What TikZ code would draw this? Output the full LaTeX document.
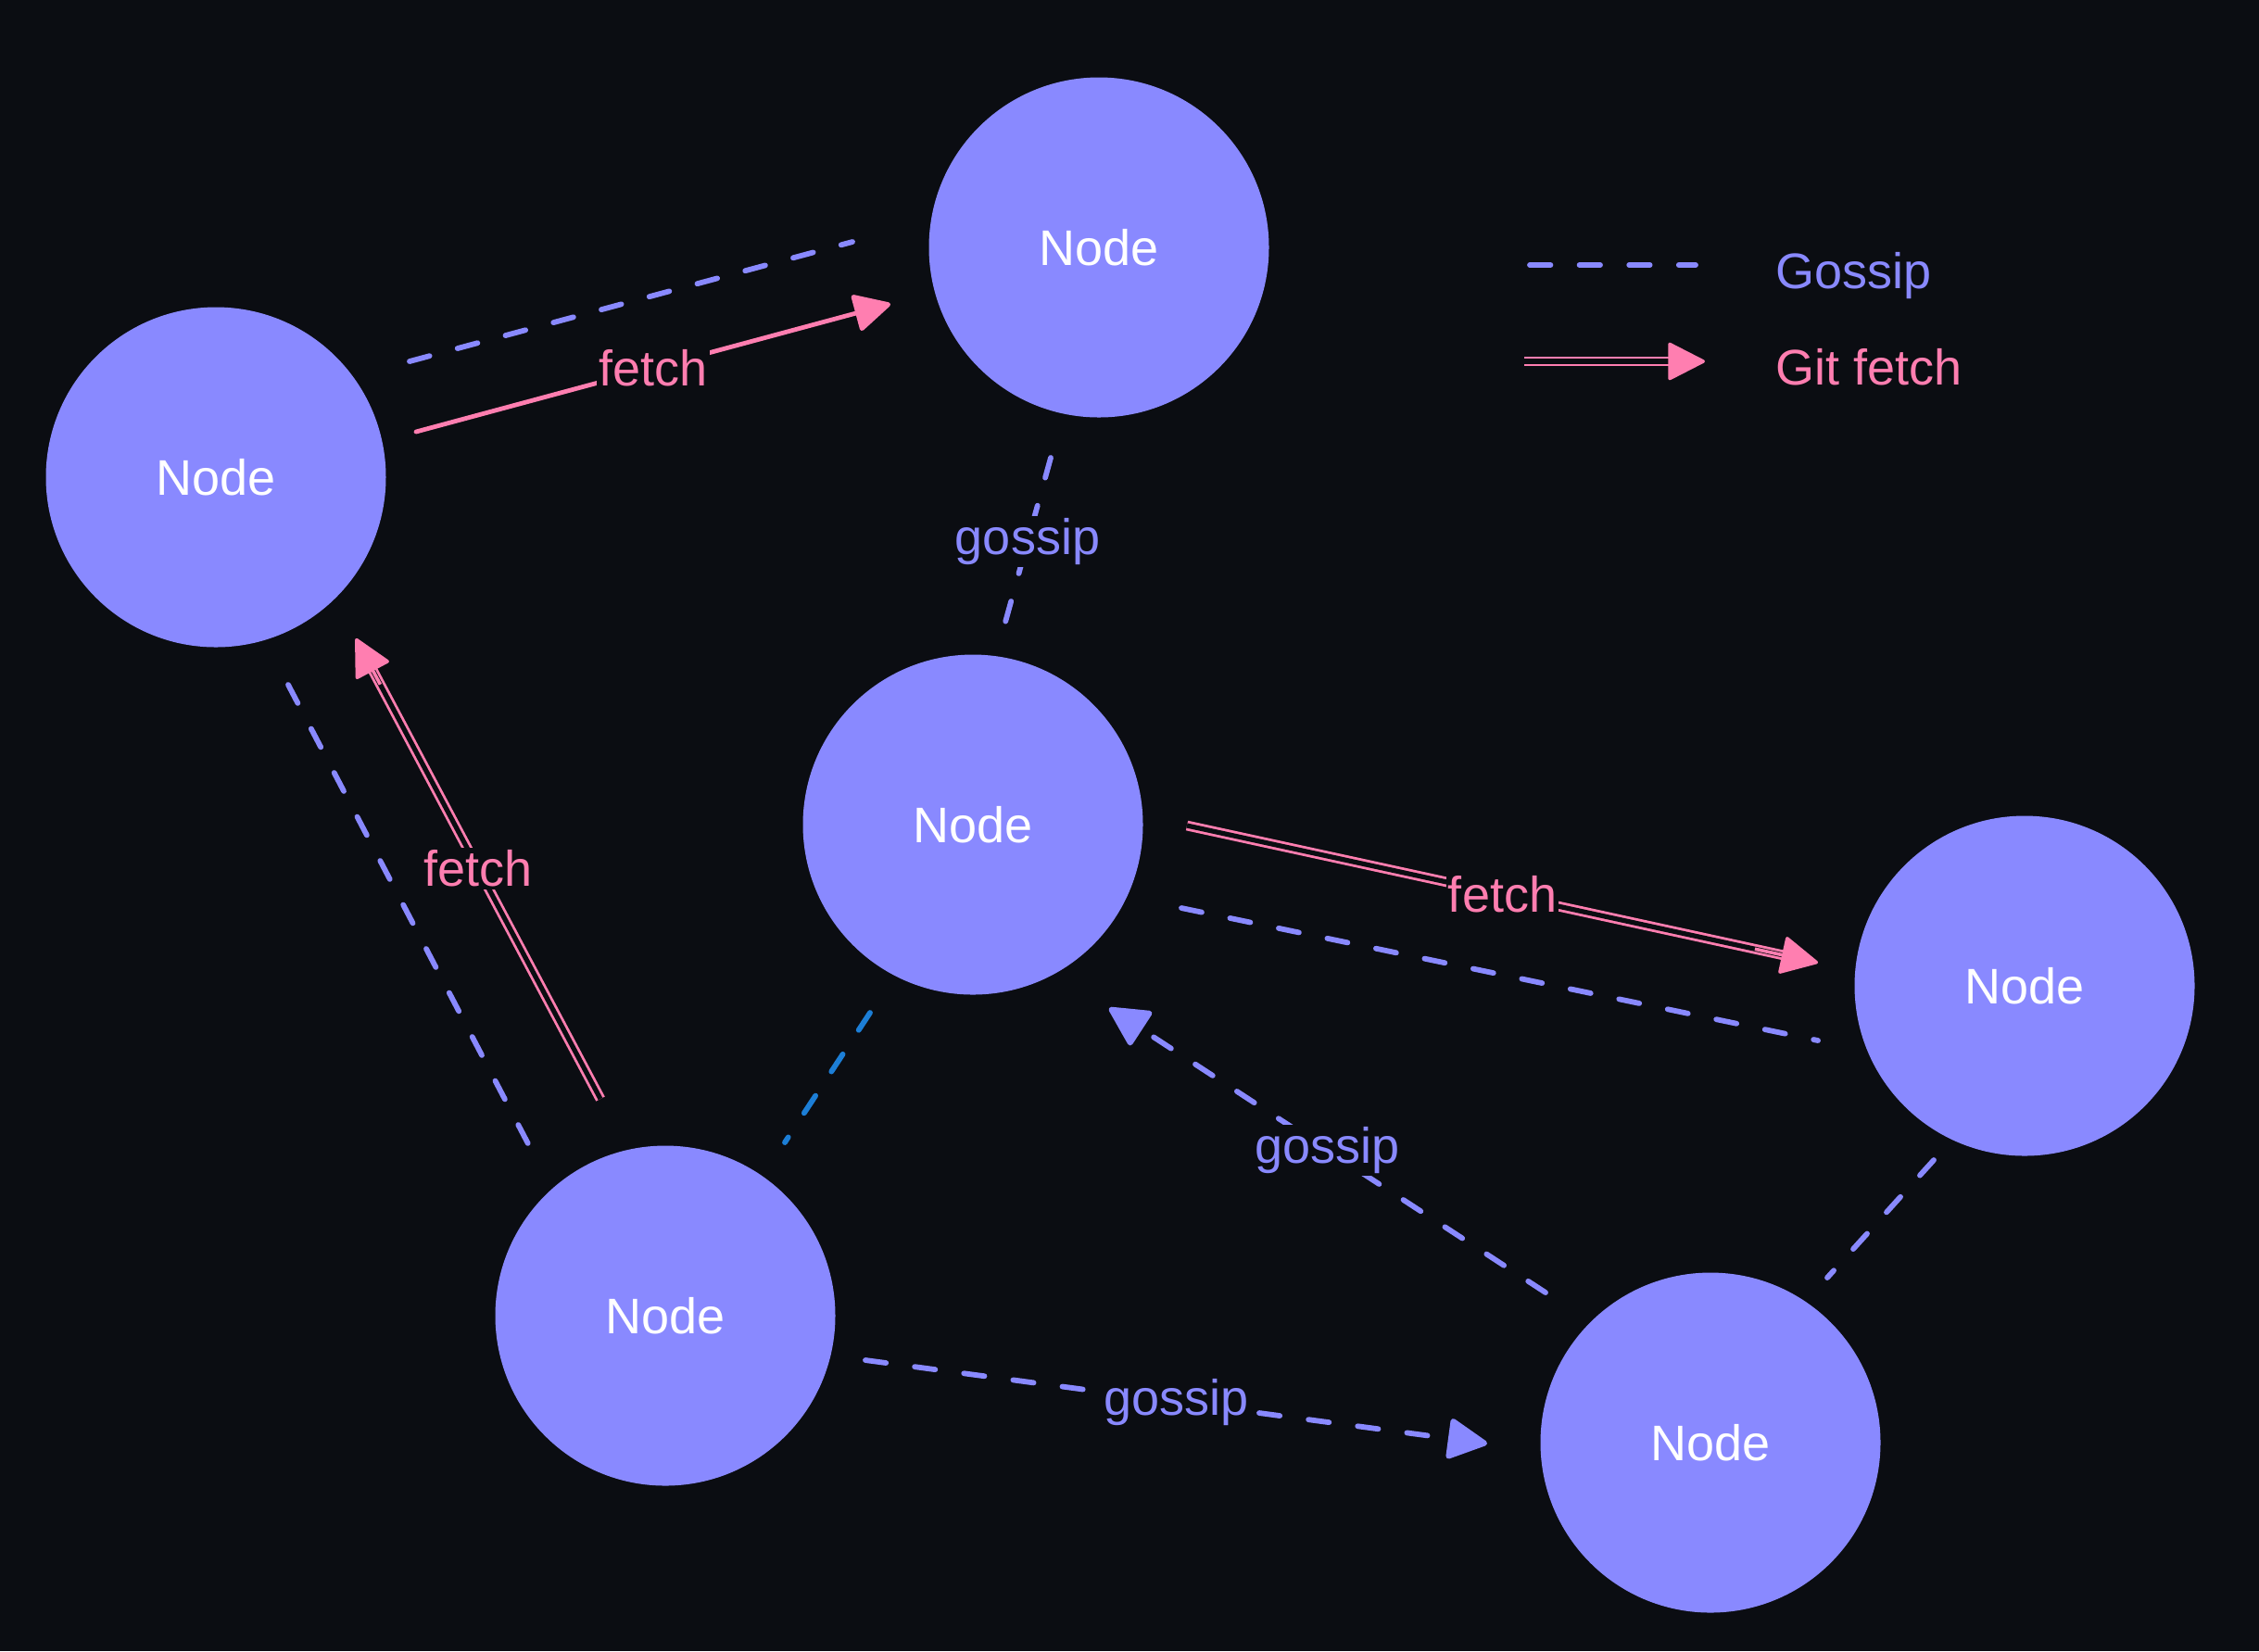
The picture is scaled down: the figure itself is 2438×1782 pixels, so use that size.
\documentclass[tikz,border=0pt]{standalone}
\usepackage{fontspec}
\setmainfont{Liberation Sans}
\usetikzlibrary{arrows.meta,calc}
\definecolor{bg}{HTML}{0B0D12}
\definecolor{nodefill}{HTML}{8989FF}
\definecolor{gossipc}{HTML}{8989FF}
\definecolor{fetchc}{HTML}{FF7EB0}
\definecolor{blued}{HTML}{1C7ED6}
\begin{document}
\begin{tikzpicture}[x=0.25pt,y=-0.25pt,
  font=\fontsize{13.5pt}{16pt}\selectfont,
  peer/.style={circle, fill=nodefill, minimum size=91.75pt, inner sep=0pt, text=white},
  gossipline/.style={draw=gossipc, line width=1.45pt, line cap=round, dash pattern=on 5.6pt off 7.8pt},
  blueline/.style={draw=blued, line width=1.45pt, line cap=round, dash pattern=on 5.6pt off 7.8pt},
  fetchsingle/.style={draw=fetchc, line width=1.2pt, line cap=round},
  fetchdouble/.style={draw=fetchc, line width=0.7pt, double=bg, double distance=1.3pt},
  fetchtip/.style={draw=fetchc, line width=0.9pt, -{Triangle[length=10.5pt,width=10.5pt,round]}},
  gossiptip/.style={-{Triangle[length=11.5pt,width=11.5pt,round]}},
  flabel/.style={fill=bg, inner sep=0.6pt, text=fetchc},
  glabel/.style={fill=bg, inner sep=0.6pt, text=gossipc}]
\fill[bg] (0,0) rectangle (2438,1782);
\useasboundingbox (0,0) rectangle (2438,1782);

% nodes
\node[peer] (A) at (233,515) {Node};
\node[peer] (B) at (1186,267) {Node};
\node[peer] (C) at (1050,890) {Node};
\node[peer] (D) at (2185,1064) {Node};
\node[peer] (E) at (718,1420) {Node};
\node[peer] (F) at (1846,1557) {Node};

% connector end points
\coordinate (abg1) at (442,390);  \coordinate (abg2) at (920,261);
\coordinate (abf1) at (449,466);  \coordinate (abf2) at (961,328);
\coordinate (bcg1) at (1134,494); \coordinate (bcg2) at (1084,675);
\coordinate (eaf1) at (648,1186); \coordinate (eaf2) at (384,689);
\coordinate (aeg1) at (311,739);  \coordinate (aeg2) at (575,1244);
\coordinate (cdf1) at (1281,891); \coordinate (cdf2) at (1962,1039);
\coordinate (cdg1) at (1275,980); \coordinate (cdg2) at (1962,1123);
\coordinate (ceb1) at (939,1093); \coordinate (ceb2) at (847,1233);
\coordinate (fcg1) at (1668,1395);\coordinate (fcg2) at (1197,1088);
\coordinate (efg1) at (934,1468); \coordinate (efg2) at (1605,1558);
\coordinate (dfg1) at (2087,1252);\coordinate (dfg2) at (1972,1379);
\coordinate (lg1) at (1651,286);  \coordinate (lg2) at (1830,286);
\coordinate (lf1) at (1645,390);  \coordinate (lf2) at (1840,390);

% gossip lines (no arrow)
\draw[gossipline] (abg1) -- (abg2);
\draw[gossipline] (aeg1) -- (aeg2);
\draw[gossipline] (cdg1) -- (cdg2);
\draw[gossipline] (dfg1) -- (dfg2);
\draw[blueline] (ceb1) -- (ceb2);
\draw[gossipline] (bcg1) -- node[glabel] {gossip} (bcg2);

% gossip arrows
\draw[gossipline, gossiptip] (fcg1) -- node[glabel] {gossip} (fcg2);
\draw[gossipline, gossiptip] (efg1) -- node[glabel] {gossip} (efg2);

% fetch arrows
\draw[fetchsingle, -{Triangle[length=10.5pt,width=10.5pt,round]}] (abf1) -- node[flabel] {fetch} (abf2);
\draw[fetchdouble, shorten >=8pt] (eaf1) -- node[flabel] {fetch} (eaf2);
\draw[fetchtip] ($(eaf1)!0.9!(eaf2)$) -- (eaf2);
\draw[fetchdouble, shorten >=8pt] (cdf1) -- node[flabel] {fetch} (cdf2);
\draw[fetchtip] ($(cdf1)!0.9!(cdf2)$) -- (cdf2);

% legend
\draw[gossipline] (lg1) -- (lg2);
\node[anchor=base west, inner sep=0pt, text=gossipc] (lgt) at (1916,311) {Gossip};
\draw[fetchdouble, shorten >=8pt] (lf1) -- (lf2);
\draw[fetchtip] ($(lf1)!0.8!(lf2)$) -- (lf2);
\node[anchor=base west, inner sep=0pt, text=fetchc] (lft) at (1916,415) {Git fetch};
\end{tikzpicture}
\end{document}
